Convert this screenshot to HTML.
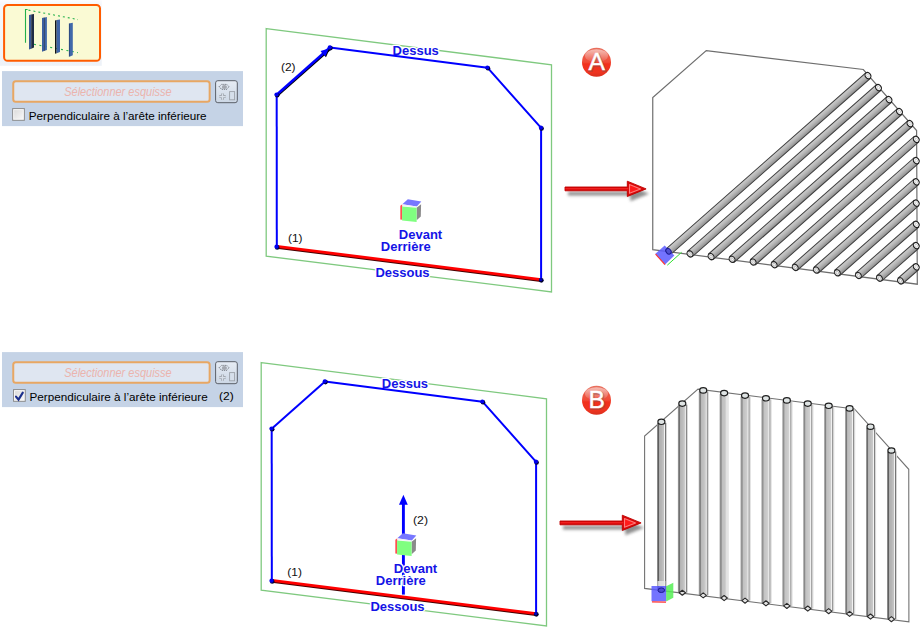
<!DOCTYPE html>
<html><head><meta charset="utf-8"><style>
html,body{margin:0;padding:0;background:#fff;width:921px;height:627px;overflow:hidden;position:relative;font-family:"Liberation Sans", sans-serif;}
.cb{position:absolute;width:11px;height:11px;border:1px solid #8e8f8f;background:linear-gradient(135deg,#dcdcdc,#f7f7f7);box-sizing:content-box}
.lbl{position:absolute;font-size:12px;color:#000;white-space:nowrap;line-height:14px}
</style></head><body>
<svg width="921" height="627" viewBox="0 0 921 627" style="position:absolute;left:0;top:0">
<defs>
<linearGradient id="tgA" x1="0" y1="0" x2="0" y2="1"><stop offset="0" stop-color="#d0d0d0"/><stop offset="0.5" stop-color="#b4b4b4"/><stop offset="1" stop-color="#8c8c8c"/></linearGradient>
<linearGradient id="arrG" x1="0" y1="0" x2="0" y2="1"><stop offset="0" stop-color="#ff4a4a"/><stop offset="0.5" stop-color="#e81010"/><stop offset="1" stop-color="#c80000"/></linearGradient>
<linearGradient id="badgeG" x1="0" y1="0" x2="0" y2="1"><stop offset="0" stop-color="#e8705e"/><stop offset="0.5" stop-color="#f04a36"/><stop offset="0.56" stop-color="#f2301c"/><stop offset="0.85" stop-color="#ee3420"/><stop offset="1" stop-color="#d8301e"/></linearGradient>
<linearGradient id="badgeH" x1="0" y1="0" x2="0" y2="1"><stop offset="0" stop-color="#fff" stop-opacity="0.55"/><stop offset="1" stop-color="#fff" stop-opacity="0.05"/></linearGradient>
<linearGradient id="btnG" x1="0" y1="0" x2="0" y2="1"><stop offset="0" stop-color="#e6ecf4"/><stop offset="1" stop-color="#ccd7e5"/></linearGradient>
<linearGradient id="cbG" x1="0" y1="0" x2="1" y2="1"><stop offset="0" stop-color="#dcdcdc"/><stop offset="1" stop-color="#f6f6f6"/></linearGradient>
<linearGradient id="iconBg" x1="0" y1="0" x2="0" y2="1"><stop offset="0" stop-color="#fcfcfe"/><stop offset="0.06" stop-color="#f5f7fb"/><stop offset="1" stop-color="#eef2f8"/></linearGradient>
<filter id="blur" x="-20%" y="-50%" width="140%" height="200%"><feGaussianBlur stdDeviation="1.6"/></filter>
</defs>
<rect x="0" y="0" width="101.8" height="65.8" fill="url(#iconBg)"/>
<rect x="4.1" y="5" width="95.9" height="55.8" rx="3.6" fill="#fafad4" stroke="#ff5c00" stroke-width="2"/>
<polyline points="27.6,9.5 25.5,9.5 25.5,42.7" fill="none" stroke="#22b04a" stroke-width="1.1"/>
<line x1="28.5" y1="10.1" x2="78" y2="19.6" stroke="#22b04a" stroke-width="1.1" stroke-dasharray="2,3"/>
<line x1="34" y1="44.3" x2="78" y2="52.6" stroke="#22b04a" stroke-width="1.1" stroke-dasharray="2,3.5"/>
<polygon points="29,15 31.2,14.58 31.2,48.66 29,49.5" fill="#3a5a98"/>
<polygon points="31.2,14.58 34,14.05 34,47.6 31.2,48.66" fill="#1f2b45"/>
<polygon points="42,18 44,17.62 44,51.04 42,51.8" fill="#3b5f9f"/>
<polygon points="44,17.62 44.9,17.45 44.9,50.7 44,51.04" fill="#23365c"/>
<polygon points="44.9,17.45 46.9,17.07 46.9,49.94 44.9,50.7" fill="#4068aa"/>
<polygon points="55,20.4 56.6,20.1 56.6,53.19 55,53.8" fill="#101418"/>
<polygon points="56.6,20.1 60,19.45 60,51.9 56.6,53.19" fill="#3e64a6"/>
<polygon points="68.9,23.4 70,23.19 70,56.38 68.9,56.8" fill="#2e4c84"/>
<polygon points="70,23.19 72.8,22.66 72.8,55.32 70,56.38" fill="#4068aa"/>
<rect x="2" y="71.1" width="241" height="55" fill="#c5d3e6"/>
<rect x="13.25" y="81.3" width="196.4" height="20.5" rx="2.5" fill="#dfe6f1" stroke="#e8a763" stroke-width="2"/>
<text x="64.2" y="95.8" font-family="Liberation Sans, sans-serif" font-style="italic" font-size="12.2" fill="#ebb4ad" textLength="107.5" lengthAdjust="spacingAndGlyphs">Sélectionner esquisse</text>
<rect x="215.6" y="80.7" width="21.7" height="22" rx="2.2" fill="url(#btnG)" stroke="#5b6069" stroke-width="1"/>
<polygon points="219.2,86.7 221.5,84.4 226.8,84.4 229,86.7 226.8,89.3 221.5,89.3" fill="none" stroke="#5a5e66" stroke-width="0.8" stroke-dasharray="1.3,0.8"/>
<ellipse cx="224.4" cy="87" rx="2.6" ry="2.0" fill="#a4a8b0"/>
<path d="M219.3 96.6 h6.4 M222.5 93.4 v6.4" stroke="#a2a8b0" stroke-width="3" fill="none"/>
<path d="M219.3 96.6 h6.4 M222.5 93.4 v6.4" stroke="#d8dfe9" stroke-width="1.3" fill="none"/>
<rect x="229.6" y="91.6" width="5" height="8.2" fill="#d6dfeb" stroke="#9ca2aa" stroke-width="0.9"/>
<rect x="12.15" y="108.1" width="12.7" height="12.7" fill="#8c8c8c"/>
<rect x="13.15" y="109.1" width="10.7" height="10.7" fill="#fcfcfc"/>
<rect x="14.15" y="110.1" width="8.7" height="8.7" fill="url(#cbG)"/>
<text x="28.8" y="119.7" font-family="Liberation Sans, sans-serif" font-size="11.3" fill="#000" textLength="177.8" lengthAdjust="spacingAndGlyphs">Perpendiculaire à l’arête inférieure</text>
<rect x="2" y="352.1" width="241" height="55" fill="#c5d3e6"/>
<rect x="13.25" y="362.3" width="196.4" height="20.5" rx="2.5" fill="#dfe6f1" stroke="#e8a763" stroke-width="2"/>
<text x="64.2" y="376.8" font-family="Liberation Sans, sans-serif" font-style="italic" font-size="12.2" fill="#ebb4ad" textLength="107.5" lengthAdjust="spacingAndGlyphs">Sélectionner esquisse</text>
<rect x="215.6" y="361.7" width="21.7" height="22" rx="2.2" fill="url(#btnG)" stroke="#5b6069" stroke-width="1"/>
<polygon points="219.2,367.7 221.5,365.4 226.8,365.4 229,367.7 226.8,370.3 221.5,370.3" fill="none" stroke="#5a5e66" stroke-width="0.8" stroke-dasharray="1.3,0.8"/>
<ellipse cx="224.4" cy="368" rx="2.6" ry="2.0" fill="#a4a8b0"/>
<path d="M219.3 377.6 h6.4 M222.5 374.4 v6.4" stroke="#a2a8b0" stroke-width="3" fill="none"/>
<path d="M219.3 377.6 h6.4 M222.5 374.4 v6.4" stroke="#d8dfe9" stroke-width="1.3" fill="none"/>
<rect x="229.6" y="372.6" width="5" height="8.2" fill="#d6dfeb" stroke="#9ca2aa" stroke-width="0.9"/>
<rect x="13.05" y="389.1" width="12.7" height="12.7" fill="#8c8c8c"/>
<rect x="14.05" y="390.1" width="10.7" height="10.7" fill="#fcfcfc"/>
<rect x="15.05" y="391.1" width="8.7" height="8.7" fill="url(#cbG)"/>
<path d="M16 396.6 L18.5 399.6 L22.8 392.6" stroke="#1b2f8c" stroke-width="2.1" fill="none" stroke-linecap="round" stroke-linejoin="miter"/>
<text x="29.52" y="400.7" font-family="Liberation Sans, sans-serif" font-size="11.3" fill="#000" textLength="178.2" lengthAdjust="spacingAndGlyphs">Perpendiculaire à l’arête inférieure</text>
<text x="219.1" y="399.8" font-family="Liberation Sans, sans-serif" font-size="10.9" fill="#000" textLength="14.7" lengthAdjust="spacingAndGlyphs">(2)</text>
<polygon points="266.2,28.6 551.5,64.75 551.5,291.9 266.2,256.25" fill="none" stroke="#7fc97f" stroke-width="1.3"/>
<text x="392.6" y="54.8" font-family="Liberation Sans, sans-serif" font-weight="bold" font-size="13" fill="#1414e6" stroke="#fff" stroke-width="2.6" stroke-linejoin="round" paint-order="stroke">Dessus</text>
<polyline points="330,47.5 487.5,67.7 541.1,127.9 541.1,280" fill="none" stroke="#0000ff" stroke-width="2" stroke-linejoin="round"/>
<line x1="276.8" y1="246.8" x2="276.7" y2="94.7" stroke="#0000ff" stroke-width="2"/>
<line x1="276.7" y1="94.7" x2="330" y2="47.5" stroke="#000" stroke-width="2.6" transform="translate(0.7,0.7)"/>
<line x1="276.7" y1="94.7" x2="330" y2="47.5" stroke="#0000ff" stroke-width="2.6"/>
<polygon points="328.88,48.49 325.27,56.49 320.5,51.1" fill="#000" transform="translate(0.7,0.7)"/>
<polygon points="328.88,48.49 325.27,56.49 320.5,51.1" fill="#0000ff"/>
<line x1="276.8" y1="246.3" x2="541.1" y2="279.6" stroke="#400" stroke-width="2.6" transform="translate(0,1.1)"/>
<line x1="276.8" y1="246.3" x2="541.1" y2="279.6" stroke="#ff0000" stroke-width="2.8"/>
<circle cx="277.2" cy="95.3" r="2.3" fill="#000030"/><circle cx="276.5" cy="94.5" r="2.1" fill="#0000f0"/>
<circle cx="330.5" cy="48.1" r="2.3" fill="#000030"/><circle cx="329.8" cy="47.3" r="2.1" fill="#0000f0"/>
<circle cx="488" cy="68.3" r="2.3" fill="#000030"/><circle cx="487.3" cy="67.5" r="2.1" fill="#0000f0"/>
<circle cx="541.6" cy="128.5" r="2.3" fill="#000030"/><circle cx="540.9" cy="127.7" r="2.1" fill="#0000f0"/>
<circle cx="541.3" cy="280.3" r="2.4" fill="#000030"/><circle cx="540.8" cy="279.6" r="1.6" fill="#0000c0"/>
<circle cx="277.2" cy="247.4" r="2.3" fill="#000030"/><circle cx="276.5" cy="246.7" r="2.1" fill="#0000f0"/>
<polygon points="261.2,362.6 546.5,398.75 546.5,625.9 261.2,590.25" fill="none" stroke="#7fc97f" stroke-width="1.3"/>
<text x="381.8" y="387.8" font-family="Liberation Sans, sans-serif" font-weight="bold" font-size="13" fill="#1414e6" stroke="#fff" stroke-width="2.6" stroke-linejoin="round" paint-order="stroke">Dessus</text>
<polyline points="325,381.5 482.5,401.7 536.1,461.9 536.1,614" fill="none" stroke="#0000ff" stroke-width="2" stroke-linejoin="round"/>
<line x1="271.8" y1="580.8" x2="271.7" y2="428.7" stroke="#0000ff" stroke-width="2"/>
<line x1="271.7" y1="428.7" x2="325" y2="381.5" stroke="#0000ff" stroke-width="2"/>
<line x1="271.8" y1="580.3" x2="536.1" y2="613.6" stroke="#400" stroke-width="2.6" transform="translate(0,1.1)"/>
<line x1="271.8" y1="580.3" x2="536.1" y2="613.6" stroke="#ff0000" stroke-width="2.8"/>
<circle cx="272.2" cy="429.3" r="2.3" fill="#000030"/><circle cx="271.5" cy="428.5" r="2.1" fill="#0000f0"/>
<circle cx="325.5" cy="382.1" r="2.3" fill="#000030"/><circle cx="324.8" cy="381.3" r="2.1" fill="#0000f0"/>
<circle cx="483" cy="402.3" r="2.3" fill="#000030"/><circle cx="482.3" cy="401.5" r="2.1" fill="#0000f0"/>
<circle cx="536.6" cy="462.5" r="2.3" fill="#000030"/><circle cx="535.9" cy="461.7" r="2.1" fill="#0000f0"/>
<circle cx="536.3" cy="614.3" r="2.4" fill="#000030"/><circle cx="535.8" cy="613.6" r="1.6" fill="#0000c0"/>
<circle cx="272.2" cy="581.4" r="2.3" fill="#000030"/><circle cx="271.5" cy="580.7" r="2.1" fill="#0000f0"/>
<polygon points="400.3,205.8 402.3,204.3 402.3,219.8 400.3,219.6" fill="#ff5050"/>
<polygon points="402.3,204.3 407.8,199.3 421.3,201.5 416.8,206.5" fill="#7777ff"/>
<polygon points="402.3,204.3 416.8,206.5 416.8,207.5 402.3,205.8" fill="#f0f0f8"/>
<polygon points="416.6,207.8 421.1,204.3 420.8,216.6 416.6,220.3" fill="#8a8a8a"/>
<polygon points="402.1,206.5 416.6,207.8 416.6,222.1 402.1,220.5" fill="#80ff80"/>
<line x1="403.4" y1="503" x2="403.4" y2="536" stroke="#0000ff" stroke-width="2.9"/>
<line x1="403.4" y1="555" x2="403.4" y2="594.6" stroke="#0000ff" stroke-width="2.9"/>
<polygon points="403.4,494.7 407.8,504.8 399,504.8" fill="#0000ff"/>
<polygon points="395.3,539.8 397.3,538.3 397.3,553.8 395.3,553.6" fill="#ff5050"/>
<polygon points="397.3,538.3 402.8,533.3 416.3,535.5 411.8,540.5" fill="#7777ff"/>
<polygon points="397.3,538.3 411.8,540.5 411.8,541.5 397.3,539.8" fill="#f0f0f8"/>
<polygon points="411.6,541.8 416.1,538.3 415.8,550.6 411.6,554.3" fill="#8a8a8a"/>
<polygon points="397.1,540.5 411.6,541.8 411.6,556.1 397.1,554.5" fill="#80ff80"/>
<text x="398.8" y="238.8" font-family="Liberation Sans, sans-serif" font-weight="bold" font-size="13" fill="#1414e6" stroke="#fff" stroke-width="2.6" stroke-linejoin="round" paint-order="stroke">Devant</text>
<text x="380.8" y="251.3" font-family="Liberation Sans, sans-serif" font-weight="bold" font-size="13" fill="#1414e6" stroke="#fff" stroke-width="2.6" stroke-linejoin="round" paint-order="stroke">Derrière</text>
<text x="375.4" y="276.5" font-family="Liberation Sans, sans-serif" font-weight="bold" font-size="13" fill="#1414e6" stroke="#fff" stroke-width="2.6" stroke-linejoin="round" paint-order="stroke">Dessous</text>
<text x="393.8" y="572.8" font-family="Liberation Sans, sans-serif" font-weight="bold" font-size="13" fill="#1414e6" stroke="#fff" stroke-width="2.6" stroke-linejoin="round" paint-order="stroke">Devant</text>
<text x="375.8" y="585.3" font-family="Liberation Sans, sans-serif" font-weight="bold" font-size="13" fill="#1414e6" stroke="#fff" stroke-width="2.6" stroke-linejoin="round" paint-order="stroke">Derrière</text>
<text x="370.4" y="610.5" font-family="Liberation Sans, sans-serif" font-weight="bold" font-size="13" fill="#1414e6" stroke="#fff" stroke-width="2.6" stroke-linejoin="round" paint-order="stroke">Dessous</text>
<text x="281" y="70.6" font-family="Liberation Sans, sans-serif" font-size="10.8" fill="#111" textLength="14.6" lengthAdjust="spacingAndGlyphs">(2)</text>
<text x="288" y="242.4" font-family="Liberation Sans, sans-serif" font-size="10.8" fill="#111" textLength="14.5" lengthAdjust="spacingAndGlyphs">(1)</text>
<text x="413" y="523.7" font-family="Liberation Sans, sans-serif" font-size="10.8" fill="#111" textLength="15" lengthAdjust="spacingAndGlyphs">(2)</text>
<text x="287.3" y="576.4" font-family="Liberation Sans, sans-serif" font-size="10.8" fill="#111" textLength="14.6" lengthAdjust="spacingAndGlyphs">(1)</text>
<polygon points="565,187 627.3,187 627.3,181.2 646.1,188.9 627.3,196.5 627.3,190.8 565,190.8" fill="#444" opacity="0.6" filter="url(#blur)" transform="translate(3,4.8)"/>
<polygon points="565,187 627.3,187 627.3,181.2 646.1,188.9 627.3,196.5 627.3,190.8 565,190.8" fill="#d80808" stroke="#c00000" stroke-width="0.9" stroke-linejoin="miter"/>
<line x1="565.5" y1="188.7" x2="628.3" y2="188.7" stroke="#f02020" stroke-width="1.2"/>
<polygon points="629.5,184.5 640.6,188.9 629.5,193.2" fill="#ff1a1a" stroke="#ff7a7a" stroke-width="1.1" stroke-linejoin="round"/>
<polygon points="560,521 622.3,521 622.3,515.2 641.1,522.9 622.3,530.5 622.3,524.8 560,524.8" fill="#444" opacity="0.6" filter="url(#blur)" transform="translate(3,4.8)"/>
<polygon points="560,521 622.3,521 622.3,515.2 641.1,522.9 622.3,530.5 622.3,524.8 560,524.8" fill="#d80808" stroke="#c00000" stroke-width="0.9" stroke-linejoin="miter"/>
<line x1="560.5" y1="522.7" x2="623.3" y2="522.7" stroke="#f02020" stroke-width="1.2"/>
<polygon points="624.5,518.5 635.6,522.9 624.5,527.2" fill="#ff1a1a" stroke="#ff7a7a" stroke-width="1.1" stroke-linejoin="round"/>
<circle cx="596.5" cy="62.2" r="14.5" fill="url(#badgeG)"/>
<ellipse cx="596.5" cy="55.7" rx="11.5" ry="6.5" fill="url(#badgeH)"/>
<text x="597.2" y="70.8" font-family="Liberation Sans, sans-serif" font-size="24.6" fill="none" stroke="#8a4a44" stroke-width="2" stroke-opacity="0.45" text-anchor="middle">A</text>
<text x="596.7" y="70.2" font-family="Liberation Sans, sans-serif" font-size="24.6" fill="#fff" stroke="#fff" stroke-width="0.4" text-anchor="middle">A</text>
<circle cx="596.5" cy="400.2" r="14.5" fill="url(#badgeG)"/>
<ellipse cx="596.5" cy="393.7" rx="11.5" ry="6.5" fill="url(#badgeH)"/>
<text x="597.2" y="408.8" font-family="Liberation Sans, sans-serif" font-size="24.6" fill="none" stroke="#8a4a44" stroke-width="2" stroke-opacity="0.45" text-anchor="middle">B</text>
<text x="596.7" y="408.2" font-family="Liberation Sans, sans-serif" font-size="24.6" fill="#fff" stroke="#fff" stroke-width="0.4" text-anchor="middle">B</text>
<polygon points="652.75,249.6 652.75,97.5 706.25,50.6 863.3,69.5 916.6,130.5 917.3,284.2" fill="#fff" stroke="#6e6e6e" stroke-width="1.2"/>
<g transform="translate(668.95,251.2) rotate(-41.41)"><rect x="0" y="-3.6" width="265.4" height="7.2" fill="url(#tgA)" stroke="#3e3e3e" stroke-width="1"/><ellipse cx="265.4" cy="0" rx="2.7" ry="3.3" fill="#f6f6f6" stroke="#1e1e1e" stroke-width="1.1"/><ellipse cx="265.4" cy="0" rx="1.1" ry="1.5" fill="#fff" stroke="#aaa" stroke-width="0.5"/></g>
<g transform="translate(690,253.89) rotate(-41.41)"><rect x="0" y="-3.6" width="251.34" height="7.2" fill="url(#tgA)" stroke="#3e3e3e" stroke-width="1"/><ellipse cx="251.34" cy="0" rx="2.7" ry="3.3" fill="#f6f6f6" stroke="#1e1e1e" stroke-width="1.1"/><ellipse cx="251.34" cy="0" rx="1.1" ry="1.5" fill="#fff" stroke="#aaa" stroke-width="0.5"/><ellipse cx="0" cy="0" rx="2.7" ry="3.3" fill="#e8e8e8" stroke="#262626" stroke-width="1.1"/><ellipse cx="0" cy="0" rx="1.1" ry="1.5" fill="#fafafa" stroke="#999" stroke-width="0.5"/></g>
<g transform="translate(711.05,256.59) rotate(-41.41)"><rect x="0" y="-3.6" width="237.28" height="7.2" fill="url(#tgA)" stroke="#3e3e3e" stroke-width="1"/><ellipse cx="237.28" cy="0" rx="2.7" ry="3.3" fill="#f6f6f6" stroke="#1e1e1e" stroke-width="1.1"/><ellipse cx="237.28" cy="0" rx="1.1" ry="1.5" fill="#fff" stroke="#aaa" stroke-width="0.5"/><ellipse cx="0" cy="0" rx="2.7" ry="3.3" fill="#e8e8e8" stroke="#262626" stroke-width="1.1"/><ellipse cx="0" cy="0" rx="1.1" ry="1.5" fill="#fafafa" stroke="#999" stroke-width="0.5"/></g>
<g transform="translate(732.1,259.28) rotate(-41.41)"><rect x="0" y="-3.6" width="223.22" height="7.2" fill="url(#tgA)" stroke="#3e3e3e" stroke-width="1"/><ellipse cx="223.22" cy="0" rx="2.7" ry="3.3" fill="#f6f6f6" stroke="#1e1e1e" stroke-width="1.1"/><ellipse cx="223.22" cy="0" rx="1.1" ry="1.5" fill="#fff" stroke="#aaa" stroke-width="0.5"/><ellipse cx="0" cy="0" rx="2.7" ry="3.3" fill="#e8e8e8" stroke="#262626" stroke-width="1.1"/><ellipse cx="0" cy="0" rx="1.1" ry="1.5" fill="#fafafa" stroke="#999" stroke-width="0.5"/></g>
<g transform="translate(753.15,261.98) rotate(-41.41)"><rect x="0" y="-3.6" width="209.16" height="7.2" fill="url(#tgA)" stroke="#3e3e3e" stroke-width="1"/><ellipse cx="209.16" cy="0" rx="2.7" ry="3.3" fill="#f6f6f6" stroke="#1e1e1e" stroke-width="1.1"/><ellipse cx="209.16" cy="0" rx="1.1" ry="1.5" fill="#fff" stroke="#aaa" stroke-width="0.5"/><ellipse cx="0" cy="0" rx="2.7" ry="3.3" fill="#e8e8e8" stroke="#262626" stroke-width="1.1"/><ellipse cx="0" cy="0" rx="1.1" ry="1.5" fill="#fafafa" stroke="#999" stroke-width="0.5"/></g>
<g transform="translate(774.2,264.67) rotate(-41.41)"><rect x="0" y="-3.6" width="189.47" height="7.2" fill="url(#tgA)" stroke="#3e3e3e" stroke-width="1"/><ellipse cx="189.47" cy="0" rx="2.7" ry="3.3" fill="#f6f6f6" stroke="#1e1e1e" stroke-width="1.1"/><ellipse cx="189.47" cy="0" rx="1.1" ry="1.5" fill="#fff" stroke="#aaa" stroke-width="0.5"/><ellipse cx="0" cy="0" rx="2.7" ry="3.3" fill="#e8e8e8" stroke="#262626" stroke-width="1.1"/><ellipse cx="0" cy="0" rx="1.1" ry="1.5" fill="#fafafa" stroke="#999" stroke-width="0.5"/></g>
<g transform="translate(795.25,267.37) rotate(-41.41)"><rect x="0" y="-3.6" width="161.41" height="7.2" fill="url(#tgA)" stroke="#3e3e3e" stroke-width="1"/><ellipse cx="161.41" cy="0" rx="2.7" ry="3.3" fill="#f6f6f6" stroke="#1e1e1e" stroke-width="1.1"/><ellipse cx="161.41" cy="0" rx="1.1" ry="1.5" fill="#fff" stroke="#aaa" stroke-width="0.5"/><ellipse cx="0" cy="0" rx="2.7" ry="3.3" fill="#e8e8e8" stroke="#262626" stroke-width="1.1"/><ellipse cx="0" cy="0" rx="1.1" ry="1.5" fill="#fafafa" stroke="#999" stroke-width="0.5"/></g>
<g transform="translate(816.3,270.06) rotate(-41.41)"><rect x="0" y="-3.6" width="133.34" height="7.2" fill="url(#tgA)" stroke="#3e3e3e" stroke-width="1"/><ellipse cx="133.34" cy="0" rx="2.7" ry="3.3" fill="#f6f6f6" stroke="#1e1e1e" stroke-width="1.1"/><ellipse cx="133.34" cy="0" rx="1.1" ry="1.5" fill="#fff" stroke="#aaa" stroke-width="0.5"/><ellipse cx="0" cy="0" rx="2.7" ry="3.3" fill="#e8e8e8" stroke="#262626" stroke-width="1.1"/><ellipse cx="0" cy="0" rx="1.1" ry="1.5" fill="#fafafa" stroke="#999" stroke-width="0.5"/></g>
<g transform="translate(837.35,272.76) rotate(-41.41)"><rect x="0" y="-3.6" width="105.27" height="7.2" fill="url(#tgA)" stroke="#3e3e3e" stroke-width="1"/><ellipse cx="105.27" cy="0" rx="2.7" ry="3.3" fill="#f6f6f6" stroke="#1e1e1e" stroke-width="1.1"/><ellipse cx="105.27" cy="0" rx="1.1" ry="1.5" fill="#fff" stroke="#aaa" stroke-width="0.5"/><ellipse cx="0" cy="0" rx="2.7" ry="3.3" fill="#e8e8e8" stroke="#262626" stroke-width="1.1"/><ellipse cx="0" cy="0" rx="1.1" ry="1.5" fill="#fafafa" stroke="#999" stroke-width="0.5"/></g>
<g transform="translate(858.4,275.45) rotate(-41.41)"><rect x="0" y="-3.6" width="77.2" height="7.2" fill="url(#tgA)" stroke="#3e3e3e" stroke-width="1"/><ellipse cx="77.2" cy="0" rx="2.7" ry="3.3" fill="#f6f6f6" stroke="#1e1e1e" stroke-width="1.1"/><ellipse cx="77.2" cy="0" rx="1.1" ry="1.5" fill="#fff" stroke="#aaa" stroke-width="0.5"/><ellipse cx="0" cy="0" rx="2.7" ry="3.3" fill="#e8e8e8" stroke="#262626" stroke-width="1.1"/><ellipse cx="0" cy="0" rx="1.1" ry="1.5" fill="#fafafa" stroke="#999" stroke-width="0.5"/></g>
<g transform="translate(879.45,278.14) rotate(-41.41)"><rect x="0" y="-3.6" width="49.14" height="7.2" fill="url(#tgA)" stroke="#3e3e3e" stroke-width="1"/><ellipse cx="49.14" cy="0" rx="2.7" ry="3.3" fill="#f6f6f6" stroke="#1e1e1e" stroke-width="1.1"/><ellipse cx="49.14" cy="0" rx="1.1" ry="1.5" fill="#fff" stroke="#aaa" stroke-width="0.5"/><ellipse cx="0" cy="0" rx="2.7" ry="3.3" fill="#e8e8e8" stroke="#262626" stroke-width="1.1"/><ellipse cx="0" cy="0" rx="1.1" ry="1.5" fill="#fafafa" stroke="#999" stroke-width="0.5"/></g>
<g transform="translate(900.5,280.84) rotate(-41.41)"><rect x="0" y="-3.6" width="21.07" height="7.2" fill="url(#tgA)" stroke="#3e3e3e" stroke-width="1"/><ellipse cx="21.07" cy="0" rx="2.7" ry="3.3" fill="#f6f6f6" stroke="#1e1e1e" stroke-width="1.1"/><ellipse cx="21.07" cy="0" rx="1.1" ry="1.5" fill="#fff" stroke="#aaa" stroke-width="0.5"/><ellipse cx="0" cy="0" rx="2.7" ry="3.3" fill="#e8e8e8" stroke="#262626" stroke-width="1.1"/><ellipse cx="0" cy="0" rx="1.1" ry="1.5" fill="#fafafa" stroke="#999" stroke-width="0.5"/></g>
<polygon points="655.4,253.7 664.7,245.5 674.4,255.5 665.1,264.5" fill="#5a5aff" fill-opacity="0.85"/>
<line x1="655.6" y1="254.2" x2="665" y2="264.6" stroke="#ff3030" stroke-width="1.2"/>
<line x1="667.3" y1="265.2" x2="681.6" y2="252.3" stroke="#30e030" stroke-width="1"/>
<ellipse cx="668.5" cy="251.3" rx="2.4" ry="3.1" fill="#5050d0" stroke="#1a1a90" stroke-width="1" transform="rotate(-41 668.5 251.3)"/>
<polygon points="644.6,588.4 644.6,436.1 698,389.2 854.5,409 908.75,469.3 908.9,621.8" fill="#fff" stroke="#727272" stroke-width="1.1"/>
<rect x="657" y="422.8" width="1" height="167.26" fill="#8a8a8a"/>
<rect x="658" y="422.8" width="1" height="167.26" fill="#5e5e5e"/>
<rect x="659" y="422.8" width="1" height="167.26" fill="#adadad"/>
<rect x="660" y="422.8" width="1" height="167.26" fill="#b3b3b3"/>
<rect x="661" y="422.8" width="1" height="167.26" fill="#b6b6b6"/>
<rect x="662" y="422.8" width="1" height="167.26" fill="#bdbdbd"/>
<rect x="663" y="422.8" width="1" height="167.26" fill="#c2c2c2"/>
<rect x="664" y="422.8" width="1" height="167.26" fill="#f2f2f2"/>
<rect x="665" y="422.8" width="1" height="167.26" fill="#747474"/>
<rect x="666" y="422.8" width="1" height="167.26" fill="#d6d6d6"/>
<ellipse cx="661.4" cy="421.8" rx="3.5" ry="2.7" fill="#dfe4e4" stroke="#1e1e1e" stroke-width="1.2"/>
<rect x="657.5" y="581" width="8" height="5" fill="#e8e8e8" opacity="0.8"/>
<rect x="677.91" y="404.6" width="1" height="188.1" fill="#8a8a8a"/>
<rect x="678.91" y="404.6" width="1" height="188.1" fill="#5e5e5e"/>
<rect x="679.91" y="404.6" width="1" height="188.1" fill="#adadad"/>
<rect x="680.91" y="404.6" width="1" height="188.1" fill="#b3b3b3"/>
<rect x="681.91" y="404.6" width="1" height="188.1" fill="#b6b6b6"/>
<rect x="682.91" y="404.6" width="1" height="188.1" fill="#bdbdbd"/>
<rect x="683.91" y="404.6" width="1" height="188.1" fill="#c2c2c2"/>
<rect x="684.91" y="404.6" width="1" height="188.1" fill="#f2f2f2"/>
<rect x="685.91" y="404.6" width="1" height="188.1" fill="#747474"/>
<rect x="686.91" y="404.6" width="1" height="188.1" fill="#d6d6d6"/>
<ellipse cx="682.31" cy="403.6" rx="3.5" ry="2.7" fill="#dfe4e4" stroke="#1e1e1e" stroke-width="1.2"/>
<path d="M679.11 592.7 L682.31 590.2 L685.51 592.7 L682.31 595.3 Z" fill="#e4e4e4" stroke="#2a2a2a" stroke-width="1.1" stroke-linejoin="round"/>
<rect x="698.82" y="391.4" width="1" height="203.94" fill="#8a8a8a"/>
<rect x="699.82" y="391.4" width="1" height="203.94" fill="#5e5e5e"/>
<rect x="700.82" y="391.4" width="1" height="203.94" fill="#adadad"/>
<rect x="701.82" y="391.4" width="1" height="203.94" fill="#b3b3b3"/>
<rect x="702.82" y="391.4" width="1" height="203.94" fill="#b6b6b6"/>
<rect x="703.82" y="391.4" width="1" height="203.94" fill="#bdbdbd"/>
<rect x="704.82" y="391.4" width="1" height="203.94" fill="#c2c2c2"/>
<rect x="705.82" y="391.4" width="1" height="203.94" fill="#f2f2f2"/>
<rect x="706.82" y="391.4" width="1" height="203.94" fill="#747474"/>
<rect x="707.82" y="391.4" width="1" height="203.94" fill="#d6d6d6"/>
<ellipse cx="703.22" cy="390.4" rx="3.5" ry="2.7" fill="#dfe4e4" stroke="#1e1e1e" stroke-width="1.2"/>
<path d="M700.02 595.34 L703.22 592.84 L706.42 595.34 L703.22 597.94 Z" fill="#e4e4e4" stroke="#2a2a2a" stroke-width="1.1" stroke-linejoin="round"/>
<rect x="719.73" y="394.1" width="1" height="203.88" fill="#7a7a7a"/>
<rect x="720.73" y="394.1" width="1" height="203.88" fill="#686868"/>
<rect x="721.73" y="394.1" width="1" height="203.88" fill="#b0b0b0"/>
<rect x="722.73" y="394.1" width="1" height="203.88" fill="#b4b4b4"/>
<rect x="723.73" y="394.1" width="1" height="203.88" fill="#b6b6b6"/>
<rect x="724.73" y="394.1" width="1" height="203.88" fill="#b8b8b8"/>
<rect x="725.73" y="394.1" width="1" height="203.88" fill="#dadada"/>
<rect x="726.73" y="394.1" width="1" height="203.88" fill="#dcdcdc"/>
<rect x="727.73" y="394.1" width="1" height="203.88" fill="#e0e0e0"/>
<ellipse cx="724.13" cy="393.1" rx="3.5" ry="2.7" fill="#dfe4e4" stroke="#1e1e1e" stroke-width="1.2"/>
<path d="M720.93 597.98 L724.13 595.48 L727.33 597.98 L724.13 600.58 Z" fill="#e4e4e4" stroke="#2a2a2a" stroke-width="1.1" stroke-linejoin="round"/>
<rect x="740.64" y="396.6" width="1" height="204.02" fill="#8a8a8a"/>
<rect x="741.64" y="396.6" width="1" height="204.02" fill="#5e5e5e"/>
<rect x="742.64" y="396.6" width="1" height="204.02" fill="#adadad"/>
<rect x="743.64" y="396.6" width="1" height="204.02" fill="#b3b3b3"/>
<rect x="744.64" y="396.6" width="1" height="204.02" fill="#b6b6b6"/>
<rect x="745.64" y="396.6" width="1" height="204.02" fill="#bdbdbd"/>
<rect x="746.64" y="396.6" width="1" height="204.02" fill="#c2c2c2"/>
<rect x="747.64" y="396.6" width="1" height="204.02" fill="#f2f2f2"/>
<rect x="748.64" y="396.6" width="1" height="204.02" fill="#747474"/>
<rect x="749.64" y="396.6" width="1" height="204.02" fill="#d6d6d6"/>
<ellipse cx="745.04" cy="395.6" rx="3.5" ry="2.7" fill="#dfe4e4" stroke="#1e1e1e" stroke-width="1.2"/>
<path d="M741.84 600.62 L745.04 598.12 L748.24 600.62 L745.04 603.22 Z" fill="#e4e4e4" stroke="#2a2a2a" stroke-width="1.1" stroke-linejoin="round"/>
<rect x="761.55" y="399.3" width="1" height="203.96" fill="#8a8a8a"/>
<rect x="762.55" y="399.3" width="1" height="203.96" fill="#5e5e5e"/>
<rect x="763.55" y="399.3" width="1" height="203.96" fill="#adadad"/>
<rect x="764.55" y="399.3" width="1" height="203.96" fill="#b3b3b3"/>
<rect x="765.55" y="399.3" width="1" height="203.96" fill="#b6b6b6"/>
<rect x="766.55" y="399.3" width="1" height="203.96" fill="#bdbdbd"/>
<rect x="767.55" y="399.3" width="1" height="203.96" fill="#c2c2c2"/>
<rect x="768.55" y="399.3" width="1" height="203.96" fill="#f2f2f2"/>
<rect x="769.55" y="399.3" width="1" height="203.96" fill="#747474"/>
<rect x="770.55" y="399.3" width="1" height="203.96" fill="#d6d6d6"/>
<ellipse cx="765.95" cy="398.3" rx="3.5" ry="2.7" fill="#dfe4e4" stroke="#1e1e1e" stroke-width="1.2"/>
<path d="M762.75 603.26 L765.95 600.76 L769.15 603.26 L765.95 605.86 Z" fill="#e4e4e4" stroke="#2a2a2a" stroke-width="1.1" stroke-linejoin="round"/>
<rect x="782.46" y="401.4" width="1" height="204.5" fill="#8a8a8a"/>
<rect x="783.46" y="401.4" width="1" height="204.5" fill="#5e5e5e"/>
<rect x="784.46" y="401.4" width="1" height="204.5" fill="#adadad"/>
<rect x="785.46" y="401.4" width="1" height="204.5" fill="#b3b3b3"/>
<rect x="786.46" y="401.4" width="1" height="204.5" fill="#b6b6b6"/>
<rect x="787.46" y="401.4" width="1" height="204.5" fill="#bdbdbd"/>
<rect x="788.46" y="401.4" width="1" height="204.5" fill="#c2c2c2"/>
<rect x="789.46" y="401.4" width="1" height="204.5" fill="#f2f2f2"/>
<rect x="790.46" y="401.4" width="1" height="204.5" fill="#747474"/>
<rect x="791.46" y="401.4" width="1" height="204.5" fill="#d6d6d6"/>
<ellipse cx="786.86" cy="400.4" rx="3.5" ry="2.7" fill="#dfe4e4" stroke="#1e1e1e" stroke-width="1.2"/>
<path d="M783.66 605.9 L786.86 603.4 L790.06 605.9 L786.86 608.5 Z" fill="#e4e4e4" stroke="#2a2a2a" stroke-width="1.1" stroke-linejoin="round"/>
<rect x="803.37" y="404.6" width="1" height="203.94" fill="#8a8a8a"/>
<rect x="804.37" y="404.6" width="1" height="203.94" fill="#5e5e5e"/>
<rect x="805.37" y="404.6" width="1" height="203.94" fill="#adadad"/>
<rect x="806.37" y="404.6" width="1" height="203.94" fill="#b3b3b3"/>
<rect x="807.37" y="404.6" width="1" height="203.94" fill="#b6b6b6"/>
<rect x="808.37" y="404.6" width="1" height="203.94" fill="#bdbdbd"/>
<rect x="809.37" y="404.6" width="1" height="203.94" fill="#c2c2c2"/>
<rect x="810.37" y="404.6" width="1" height="203.94" fill="#f2f2f2"/>
<rect x="811.37" y="404.6" width="1" height="203.94" fill="#747474"/>
<rect x="812.37" y="404.6" width="1" height="203.94" fill="#d6d6d6"/>
<ellipse cx="807.77" cy="403.6" rx="3.5" ry="2.7" fill="#dfe4e4" stroke="#1e1e1e" stroke-width="1.2"/>
<path d="M804.57 608.54 L807.77 606.04 L810.97 608.54 L807.77 611.14 Z" fill="#e4e4e4" stroke="#2a2a2a" stroke-width="1.1" stroke-linejoin="round"/>
<rect x="824.28" y="406.8" width="1" height="204.38" fill="#8a8a8a"/>
<rect x="825.28" y="406.8" width="1" height="204.38" fill="#5e5e5e"/>
<rect x="826.28" y="406.8" width="1" height="204.38" fill="#adadad"/>
<rect x="827.28" y="406.8" width="1" height="204.38" fill="#b3b3b3"/>
<rect x="828.28" y="406.8" width="1" height="204.38" fill="#b6b6b6"/>
<rect x="829.28" y="406.8" width="1" height="204.38" fill="#bdbdbd"/>
<rect x="830.28" y="406.8" width="1" height="204.38" fill="#c2c2c2"/>
<rect x="831.28" y="406.8" width="1" height="204.38" fill="#f2f2f2"/>
<rect x="832.28" y="406.8" width="1" height="204.38" fill="#747474"/>
<rect x="833.28" y="406.8" width="1" height="204.38" fill="#d6d6d6"/>
<ellipse cx="828.68" cy="405.8" rx="3.5" ry="2.7" fill="#dfe4e4" stroke="#1e1e1e" stroke-width="1.2"/>
<path d="M825.48 611.18 L828.68 608.68 L831.88 611.18 L828.68 613.78 Z" fill="#e4e4e4" stroke="#2a2a2a" stroke-width="1.1" stroke-linejoin="round"/>
<rect x="845.19" y="409.4" width="1" height="204.42" fill="#8a8a8a"/>
<rect x="846.19" y="409.4" width="1" height="204.42" fill="#5e5e5e"/>
<rect x="847.19" y="409.4" width="1" height="204.42" fill="#adadad"/>
<rect x="848.19" y="409.4" width="1" height="204.42" fill="#b3b3b3"/>
<rect x="849.19" y="409.4" width="1" height="204.42" fill="#b6b6b6"/>
<rect x="850.19" y="409.4" width="1" height="204.42" fill="#bdbdbd"/>
<rect x="851.19" y="409.4" width="1" height="204.42" fill="#c2c2c2"/>
<rect x="852.19" y="409.4" width="1" height="204.42" fill="#f2f2f2"/>
<rect x="853.19" y="409.4" width="1" height="204.42" fill="#747474"/>
<rect x="854.19" y="409.4" width="1" height="204.42" fill="#d6d6d6"/>
<ellipse cx="849.59" cy="408.4" rx="3.5" ry="2.7" fill="#dfe4e4" stroke="#1e1e1e" stroke-width="1.2"/>
<path d="M846.39 613.82 L849.59 611.32 L852.79 613.82 L849.59 616.42 Z" fill="#e4e4e4" stroke="#2a2a2a" stroke-width="1.1" stroke-linejoin="round"/>
<rect x="866.1" y="427.7" width="1" height="188.76" fill="#8a8a8a"/>
<rect x="867.1" y="427.7" width="1" height="188.76" fill="#5e5e5e"/>
<rect x="868.1" y="427.7" width="1" height="188.76" fill="#adadad"/>
<rect x="869.1" y="427.7" width="1" height="188.76" fill="#b3b3b3"/>
<rect x="870.1" y="427.7" width="1" height="188.76" fill="#b6b6b6"/>
<rect x="871.1" y="427.7" width="1" height="188.76" fill="#bdbdbd"/>
<rect x="872.1" y="427.7" width="1" height="188.76" fill="#c2c2c2"/>
<rect x="873.1" y="427.7" width="1" height="188.76" fill="#f2f2f2"/>
<rect x="874.1" y="427.7" width="1" height="188.76" fill="#747474"/>
<rect x="875.1" y="427.7" width="1" height="188.76" fill="#d6d6d6"/>
<ellipse cx="870.5" cy="426.7" rx="3.5" ry="2.7" fill="#dfe4e4" stroke="#1e1e1e" stroke-width="1.2"/>
<path d="M867.3 616.46 L870.5 613.96 L873.7 616.46 L870.5 619.06 Z" fill="#e4e4e4" stroke="#2a2a2a" stroke-width="1.1" stroke-linejoin="round"/>
<rect x="887.01" y="451.5" width="1" height="167.6" fill="#8a8a8a"/>
<rect x="888.01" y="451.5" width="1" height="167.6" fill="#5e5e5e"/>
<rect x="889.01" y="451.5" width="1" height="167.6" fill="#adadad"/>
<rect x="890.01" y="451.5" width="1" height="167.6" fill="#b3b3b3"/>
<rect x="891.01" y="451.5" width="1" height="167.6" fill="#b6b6b6"/>
<rect x="892.01" y="451.5" width="1" height="167.6" fill="#bdbdbd"/>
<rect x="893.01" y="451.5" width="1" height="167.6" fill="#c2c2c2"/>
<rect x="894.01" y="451.5" width="1" height="167.6" fill="#f2f2f2"/>
<rect x="895.01" y="451.5" width="1" height="167.6" fill="#747474"/>
<rect x="896.01" y="451.5" width="1" height="167.6" fill="#d6d6d6"/>
<ellipse cx="891.41" cy="450.5" rx="3.5" ry="2.7" fill="#dfe4e4" stroke="#1e1e1e" stroke-width="1.2"/>
<path d="M888.21 619.1 L891.41 616.6 L894.61 619.1 L891.41 621.7 Z" fill="#e4e4e4" stroke="#2a2a2a" stroke-width="1.1" stroke-linejoin="round"/>
<polygon points="666.1,586.3 673.3,582.8 673.3,597.8 666.1,601.4" fill="#55ee55" fill-opacity="0.85"/>
<polygon points="651.5,586 666.1,586 666.1,601.2 651.5,601.2" fill="#5a5aff" fill-opacity="0.85"/>
<line x1="652" y1="601.8" x2="666" y2="602.2" stroke="#ff3030" stroke-width="1.3"/>
<ellipse cx="661.3" cy="590.2" rx="3.3" ry="2.3" fill="#4a4ad0" stroke="#1a1a90" stroke-width="1"/>
</svg>
</body></html>
